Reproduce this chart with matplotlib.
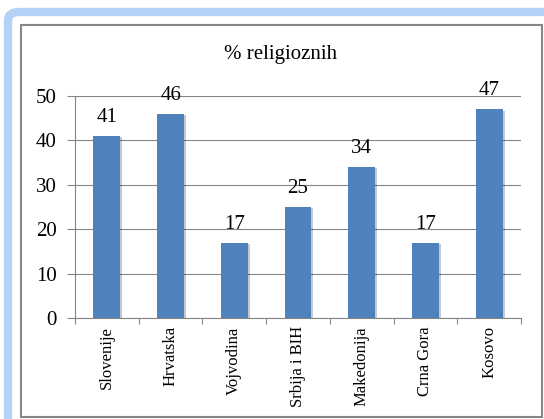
import matplotlib.pyplot as plt
from matplotlib.patches import Rectangle, FancyBboxPatch
import matplotlib.patheffects as pe

categories = ['Slovenije', 'Hrvatska', 'Vojvodina', 'Srbija i BIH', 'Makedonija', 'Crna Gora', 'Kosovo']
values = [41, 46, 17, 25, 34, 17, 47]
yticks = [0, 10, 20, 30, 40, 50]

plt.rcParams['font.family'] = ['Liberation Serif', 'DejaVu Serif']

W, H = 544, 419
fig = plt.figure(figsize=(W / 100, H / 100), dpi=100)

# window-like frame
frame = FancyBboxPatch((8 / W, -0.2), 1.2, (H - 12) / H + 0.2,
                       boxstyle='round,pad=0,rounding_size=0.02',
                       transform=fig.transFigure, facecolor='white',
                       edgecolor='#b4d2f6', linewidth=6, zorder=0)
fig.patches.append(frame)
box = Rectangle((21 / W, 2 / H), (542 - 21) / W, (417 - 25) / H,
                transform=fig.transFigure, facecolor='white',
                edgecolor='#868686', linewidth=1.5, zorder=1)
fig.patches.append(box)

ax = fig.add_axes([75 / W, (H - 318) / H, (521 - 75) / W, (318 - 96) / H])
ax.set_zorder(3)
ax.set_facecolor('none')

x = list(range(len(categories)))
bars = ax.bar(x, values, width=0.42, color='#4f81bd', zorder=3,
              path_effects=[pe.SimplePatchShadow(offset=(1.5, -1), alpha=0.25),
                            pe.Normal()])

for xi, v in zip(x, values):
    ax.text(xi, v + 2.0, str(v), ha='center', va='bottom', fontsize=15)

ax.set_xlim(-0.5, len(categories) - 0.5)
ax.set_ylim(0, 50)
ax.set_yticks(yticks)
ax.tick_params(axis='y', length=6, color='#868686', labelsize=15, pad=7)
ax.yaxis.grid(True, color='#868686', linewidth=0.8)
ax.set_axisbelow(True)

ax.set_xticks([i - 0.5 for i in range(len(categories) + 1)])
ax.set_xticklabels([])
ax.tick_params(axis='x', which='major', length=4, color='#868686')
ax.set_xticks(x, minor=True)
ax.set_xticklabels(categories, minor=True, rotation=90, fontsize=12)
ax.tick_params(axis='x', which='minor', length=0, pad=6)

for s in ['top', 'right']:
    ax.spines[s].set_visible(False)
for s in ['left', 'bottom']:
    ax.spines[s].set_color('#868686')

fig.text(281 / W, 1 - 55 / H, '% religioznih', ha='center', va='center', fontsize=15)

fig.savefig('out.png', dpi=100)
